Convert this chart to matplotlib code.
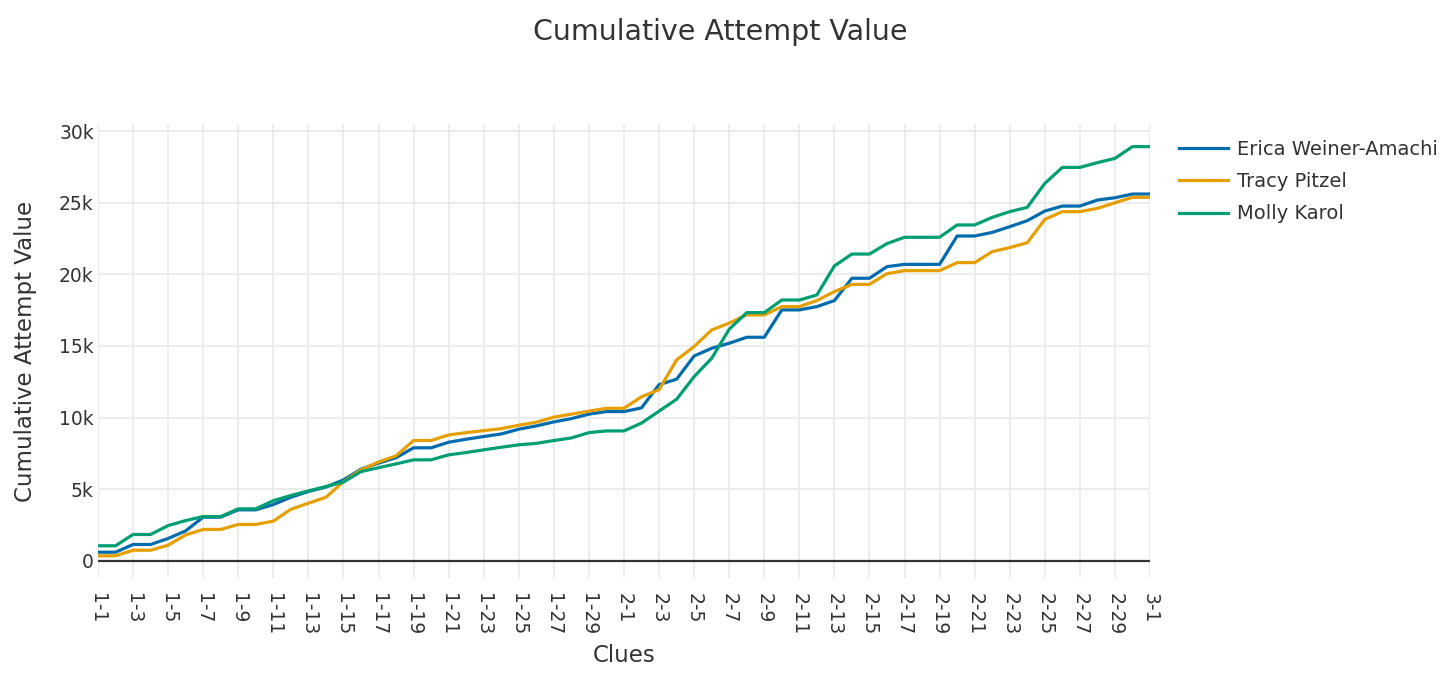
import matplotlib
matplotlib.use('Agg')
import matplotlib.pyplot as plt
from matplotlib.ticker import FuncFormatter

clues = [f'1-{d}' for d in range(1, 31)] + [f'2-{d}' for d in range(1, 31)] + ['3-1']

erica = [600, 600, 1140, 1140, 1560, 2090, 3050, 3050, 3560, 3560,
         3930, 4440, 4840, 5150, 5650, 6400, 6820, 7200, 7890, 7890,
         8280, 8490, 8680, 8860, 9190, 9420, 9700, 9930, 10240, 10420,
         10420, 10680, 12300, 12680, 14300, 14840, 15190, 15610, 15610, 17520,
         17520, 17750, 18170, 19730, 19730, 20540, 20700, 20700, 20700, 22680,
         22680, 22930, 23330, 23750, 24420, 24770, 24770, 25190, 25350, 25610,
         25610]
tracy = [350, 350, 740, 740, 1090, 1810, 2190, 2190, 2540, 2540,
         2770, 3600, 4020, 4440, 5530, 6350, 6900, 7330, 8400, 8400,
         8790, 8950, 9090, 9230, 9470, 9680, 10030, 10240, 10450, 10650,
         10650, 11450, 11950, 14030, 14960, 16120, 16600, 17170, 17170, 17750,
         17750, 18170, 18800, 19300, 19300, 20050, 20260, 20260, 20260, 20820,
         20820, 21590, 21870, 22210, 23840, 24380, 24380, 24610, 25000, 25380,
         25380]
molly = [1050, 1050, 1840, 1840, 2460, 2810, 3090, 3090, 3630, 3630,
         4200, 4560, 4880, 5180, 5500, 6230, 6500, 6770, 7050, 7050,
         7400, 7560, 7750, 7930, 8100, 8200, 8400, 8580, 8950, 9070,
         9070, 9620, 10450, 11280, 12860, 14140, 16170, 17330, 17330, 18210,
         18210, 18560, 20590, 21420, 21420, 22150, 22590, 22590, 22590, 23450,
         23450, 23980, 24380, 24680, 26350, 27470, 27470, 27800, 28100, 28920,
         28920]

names = ['Erica Weiner-Amachi', 'Tracy Pitzel', 'Molly Karol']
colors = ['#006BAD', '#E69F00', '#009E73']

plt.rcParams['font.family'] = ['DejaVu Sans']
text_color = '#333333'

fig = plt.figure(figsize=(14.56, 6.83), dpi=100)
ax = fig.add_axes([98 / 1456, 1 - 578 / 683, 1052 / 1456, 454 / 683])

x = list(range(len(clues)))
for vals, name, c in zip([erica, tracy, molly], names, colors):
    ax.plot(x, vals, color=c, lw=2.3, label=name, zorder=3)

# zero line
ax.axhline(0, color='#333333', lw=1.6, zorder=2)

ax.set_xlim(0, len(clues) - 1)
ax.set_ylim(-1200, 30500)
ax.set_xticks(x[::2])
ax.set_xticklabels(clues[::2], rotation=-90, ha='center', va='top')
ax.set_yticks(range(0, 30001, 5000))
ax.yaxis.set_major_formatter(FuncFormatter(lambda v, p: '0' if v == 0 else f'{int(v / 1000)}k'))

ax.grid(True, color='#ebebeb', lw=1.3, zorder=0)
ax.set_axisbelow(True)
for s in ax.spines.values():
    s.set_visible(False)
ax.tick_params(axis='both', length=0, labelsize=13.5, colors=text_color)
ax.tick_params(axis='x', pad=11)
ax.tick_params(axis='y', pad=3)

ax.set_xlabel('Clues', fontsize=16.5, color=text_color, labelpad=6)
ax.set_ylabel('Cumulative Attempt Value', fontsize=16.5, color=text_color, labelpad=16)

fig.text(720 / 1456, 1 - 32 / 683, 'Cumulative Attempt Value', fontsize=20.5,
         color=text_color, ha='center', va='center')

fig.legend(loc='upper left', bbox_to_anchor=(1179 / 1456, 1 - 140 / 683),
           frameon=False, fontsize=14, handlelength=2.5, handletextpad=0.5,
           labelspacing=0.68, borderpad=0, borderaxespad=0, labelcolor=text_color)

fig.savefig('out.png', dpi=100)
